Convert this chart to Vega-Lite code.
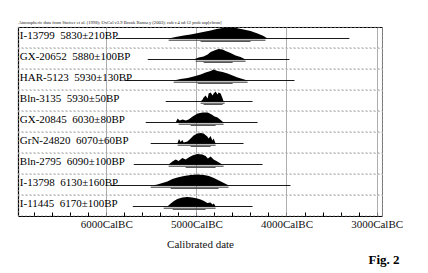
{
  "$schema": "https://vega.github.io/schema/vega-lite/v6.json",
  "background": "white",
  "padding": {"left": 17, "top": 19, "right": 0, "bottom": 0},
  "config": {
    "font": "Liberation Serif",
    "view": {"stroke": "#9a9a9a", "strokeDash": [1.5, 2.5], "strokeWidth": 0.8}
  },
  "title": {"text": "Fig. 2", "orient": "bottom", "anchor": "end", "fontSize": 13, "fontWeight": "bold", "font": "Liberation Serif", "offset": 5, "dx": -3},
  "bounds": "flush",
  "data": {"values": [
    {"id": "I-13799", "k": "line", "bc": 5895, "bc2": 3302, "lab": "I-13799\u00a0\u00a05830±210BP"},
    {"id": "I-13799", "k": "r95", "bc": 5308, "bc2": 4233},
    {"id": "I-13799", "k": "r68", "bc": 4953, "bc2": 4399},
    {"id": "I-13799", "k": "d", "bc": 5308, "h": 0},
    {"id": "I-13799", "k": "d", "bc": 5230, "h": 1.5},
    {"id": "I-13799", "k": "d", "bc": 5141, "h": 3},
    {"id": "I-13799", "k": "d", "bc": 5064, "h": 4},
    {"id": "I-13799", "k": "d", "bc": 5008, "h": 5},
    {"id": "I-13799", "k": "d", "bc": 4953, "h": 6},
    {"id": "I-13799", "k": "d", "bc": 4898, "h": 7},
    {"id": "I-13799", "k": "d", "bc": 4842, "h": 8},
    {"id": "I-13799", "k": "d", "bc": 4776, "h": 9.5},
    {"id": "I-13799", "k": "d", "bc": 4709, "h": 10.5},
    {"id": "I-13799", "k": "d", "bc": 4643, "h": 11},
    {"id": "I-13799", "k": "d", "bc": 4587, "h": 11},
    {"id": "I-13799", "k": "d", "bc": 4532, "h": 10},
    {"id": "I-13799", "k": "d", "bc": 4477, "h": 9},
    {"id": "I-13799", "k": "d", "bc": 4399, "h": 7.5},
    {"id": "I-13799", "k": "d", "bc": 4321, "h": 5},
    {"id": "I-13799", "k": "d", "bc": 4255, "h": 2.5},
    {"id": "I-13799", "k": "d", "bc": 4211, "h": 0},

    {"id": "GX-20652", "k": "line", "bc": 5540, "bc2": 3967, "lab": "GX-20652\u00a0\u00a05880±100BP"},
    {"id": "GX-20652", "k": "r95", "bc": 5008, "bc2": 4454},
    {"id": "GX-20652", "k": "r68", "bc": 4920, "bc2": 4598},
    {"id": "GX-20652", "k": "d", "bc": 5031, "h": 0},
    {"id": "GX-20652", "k": "d", "bc": 4975, "h": 2},
    {"id": "GX-20652", "k": "d", "bc": 4920, "h": 3},
    {"id": "GX-20652", "k": "d", "bc": 4875, "h": 5},
    {"id": "GX-20652", "k": "d", "bc": 4842, "h": 7.5},
    {"id": "GX-20652", "k": "d", "bc": 4787, "h": 9.5},
    {"id": "GX-20652", "k": "d", "bc": 4754, "h": 10.5},
    {"id": "GX-20652", "k": "d", "bc": 4709, "h": 10},
    {"id": "GX-20652", "k": "d", "bc": 4676, "h": 8.5},
    {"id": "GX-20652", "k": "d", "bc": 4621, "h": 6.5},
    {"id": "GX-20652", "k": "d", "bc": 4565, "h": 4},
    {"id": "GX-20652", "k": "d", "bc": 4510, "h": 2.5},
    {"id": "GX-20652", "k": "d", "bc": 4454, "h": 0},

    {"id": "HAR-5123", "k": "line", "bc": 5795, "bc2": 3911, "lab": "HAR-5123\u00a0\u00a05930±130BP"},
    {"id": "HAR-5123", "k": "r95", "bc": 5252, "bc2": 4432},
    {"id": "HAR-5123", "k": "r68", "bc": 4986, "bc2": 4598},
    {"id": "HAR-5123", "k": "d", "bc": 5252, "h": 0},
    {"id": "HAR-5123", "k": "d", "bc": 5175, "h": 1.5},
    {"id": "HAR-5123", "k": "d", "bc": 5097, "h": 2.5},
    {"id": "HAR-5123", "k": "d", "bc": 5031, "h": 4},
    {"id": "HAR-5123", "k": "d", "bc": 4953, "h": 6},
    {"id": "HAR-5123", "k": "d", "bc": 4898, "h": 8},
    {"id": "HAR-5123", "k": "d", "bc": 4842, "h": 9.5},
    {"id": "HAR-5123", "k": "d", "bc": 4809, "h": 11},
    {"id": "HAR-5123", "k": "d", "bc": 4765, "h": 9.5},
    {"id": "HAR-5123", "k": "d", "bc": 4709, "h": 8.5},
    {"id": "HAR-5123", "k": "d", "bc": 4654, "h": 7},
    {"id": "HAR-5123", "k": "d", "bc": 4598, "h": 5},
    {"id": "HAR-5123", "k": "d", "bc": 4543, "h": 3},
    {"id": "HAR-5123", "k": "d", "bc": 4488, "h": 1.5},
    {"id": "HAR-5123", "k": "d", "bc": 4432, "h": 0},

    {"id": "Bln-3135", "k": "line", "bc": 5341, "bc2": 4377, "lab": "Bln-3135\u00a0\u00a05930±50BP"},
    {"id": "Bln-3135", "k": "r95", "bc": 4953, "bc2": 4687},
    {"id": "Bln-3135", "k": "r68", "bc": 4920, "bc2": 4709},
    {"id": "Bln-3135", "k": "d", "bc": 4953, "h": 0},
    {"id": "Bln-3135", "k": "d", "bc": 4931, "h": 2},
    {"id": "Bln-3135", "k": "d", "bc": 4920, "h": 4},
    {"id": "Bln-3135", "k": "d", "bc": 4898, "h": 6},
    {"id": "Bln-3135", "k": "d", "bc": 4875, "h": 3},
    {"id": "Bln-3135", "k": "d", "bc": 4864, "h": 8},
    {"id": "Bln-3135", "k": "d", "bc": 4842, "h": 9},
    {"id": "Bln-3135", "k": "d", "bc": 4820, "h": 6},
    {"id": "Bln-3135", "k": "d", "bc": 4809, "h": 8},
    {"id": "Bln-3135", "k": "d", "bc": 4787, "h": 10},
    {"id": "Bln-3135", "k": "d", "bc": 4765, "h": 7},
    {"id": "Bln-3135", "k": "d", "bc": 4754, "h": 9},
    {"id": "Bln-3135", "k": "d", "bc": 4731, "h": 8},
    {"id": "Bln-3135", "k": "d", "bc": 4709, "h": 3},
    {"id": "Bln-3135", "k": "d", "bc": 4698, "h": 0},

    {"id": "GX-20845", "k": "line", "bc": 5562, "bc2": 4321, "lab": "GX-20845\u00a0\u00a06030±80BP"},
    {"id": "GX-20845", "k": "r95", "bc": 5197, "bc2": 4698},
    {"id": "GX-20845", "k": "r68", "bc": 5064, "bc2": 4787},
    {"id": "GX-20845", "k": "d", "bc": 5230, "h": 0},
    {"id": "GX-20845", "k": "d", "bc": 5208, "h": 4},
    {"id": "GX-20845", "k": "d", "bc": 5186, "h": 2},
    {"id": "GX-20845", "k": "d", "bc": 5152, "h": 3},
    {"id": "GX-20845", "k": "d", "bc": 5119, "h": 2},
    {"id": "GX-20845", "k": "d", "bc": 5086, "h": 3},
    {"id": "GX-20845", "k": "d", "bc": 5042, "h": 6},
    {"id": "GX-20845", "k": "d", "bc": 4986, "h": 9},
    {"id": "GX-20845", "k": "d", "bc": 4931, "h": 10},
    {"id": "GX-20845", "k": "d", "bc": 4875, "h": 10},
    {"id": "GX-20845", "k": "d", "bc": 4831, "h": 8},
    {"id": "GX-20845", "k": "d", "bc": 4798, "h": 6},
    {"id": "GX-20845", "k": "d", "bc": 4765, "h": 5},
    {"id": "GX-20845", "k": "d", "bc": 4731, "h": 2.5},
    {"id": "GX-20845", "k": "d", "bc": 4698, "h": 0},

    {"id": "GrN-24820", "k": "line", "bc": 5507, "bc2": 4477, "lab": "GrN-24820\u00a0\u00a06070±60BP"},
    {"id": "GrN-24820", "k": "r95", "bc": 5208, "bc2": 4787},
    {"id": "GrN-24820", "k": "r68", "bc": 5064, "bc2": 4842},
    {"id": "GrN-24820", "k": "d", "bc": 5211, "h": 0},
    {"id": "GrN-24820", "k": "d", "bc": 5193, "h": 4.5},
    {"id": "GrN-24820", "k": "d", "bc": 5175, "h": 1.5},
    {"id": "GrN-24820", "k": "d", "bc": 5156, "h": 3.5},
    {"id": "GrN-24820", "k": "d", "bc": 5141, "h": 1},
    {"id": "GrN-24820", "k": "d", "bc": 5100, "h": 2},
    {"id": "GrN-24820", "k": "d", "bc": 5064, "h": 5},
    {"id": "GrN-24820", "k": "d", "bc": 5031, "h": 8},
    {"id": "GrN-24820", "k": "d", "bc": 4990, "h": 10},
    {"id": "GrN-24820", "k": "d", "bc": 4953, "h": 10.5},
    {"id": "GrN-24820", "k": "d", "bc": 4920, "h": 10},
    {"id": "GrN-24820", "k": "d", "bc": 4879, "h": 7},
    {"id": "GrN-24820", "k": "d", "bc": 4864, "h": 5},
    {"id": "GrN-24820", "k": "d", "bc": 4842, "h": 7.5},
    {"id": "GrN-24820", "k": "d", "bc": 4823, "h": 3},
    {"id": "GrN-24820", "k": "d", "bc": 4809, "h": 5},
    {"id": "GrN-24820", "k": "d", "bc": 4787, "h": 0},

    {"id": "Bln-2795", "k": "line", "bc": 5695, "bc2": 4266, "lab": "Bln-2795\u00a0\u00a06090±100BP"},
    {"id": "Bln-2795", "k": "r95", "bc": 5308, "bc2": 4698},
    {"id": "Bln-2795", "k": "r68", "bc": 5119, "bc2": 4787},
    {"id": "Bln-2795", "k": "d", "bc": 5308, "h": 0},
    {"id": "Bln-2795", "k": "d", "bc": 5266, "h": 3},
    {"id": "Bln-2795", "k": "d", "bc": 5230, "h": 5},
    {"id": "Bln-2795", "k": "d", "bc": 5197, "h": 3.5},
    {"id": "Bln-2795", "k": "d", "bc": 5156, "h": 6.5},
    {"id": "Bln-2795", "k": "d", "bc": 5119, "h": 5},
    {"id": "Bln-2795", "k": "d", "bc": 5086, "h": 7},
    {"id": "Bln-2795", "k": "d", "bc": 5045, "h": 9},
    {"id": "Bln-2795", "k": "d", "bc": 4990, "h": 10.5},
    {"id": "Bln-2795", "k": "d", "bc": 4934, "h": 10},
    {"id": "Bln-2795", "k": "d", "bc": 4898, "h": 8.5},
    {"id": "Bln-2795", "k": "d", "bc": 4872, "h": 6},
    {"id": "Bln-2795", "k": "d", "bc": 4842, "h": 8},
    {"id": "Bln-2795", "k": "d", "bc": 4809, "h": 5},
    {"id": "Bln-2795", "k": "d", "bc": 4768, "h": 3},
    {"id": "Bln-2795", "k": "d", "bc": 4713, "h": 0},

    {"id": "I-13798", "k": "line", "bc": 5950, "bc2": 3956, "lab": "I-13798\u00a0\u00a06130±160BP"},
    {"id": "I-13798", "k": "r95", "bc": 5507, "bc2": 4643},
    {"id": "I-13798", "k": "r68", "bc": 5285, "bc2": 4754},
    {"id": "I-13798", "k": "d", "bc": 5488, "h": 0},
    {"id": "I-13798", "k": "d", "bc": 5433, "h": 1},
    {"id": "I-13798", "k": "d", "bc": 5377, "h": 2.5},
    {"id": "I-13798", "k": "d", "bc": 5322, "h": 4},
    {"id": "I-13798", "k": "d", "bc": 5266, "h": 6.5},
    {"id": "I-13798", "k": "d", "bc": 5211, "h": 8},
    {"id": "I-13798", "k": "d", "bc": 5138, "h": 9.5},
    {"id": "I-13798", "k": "d", "bc": 5064, "h": 10.5},
    {"id": "I-13798", "k": "d", "bc": 4990, "h": 11},
    {"id": "I-13798", "k": "d", "bc": 4916, "h": 10.5},
    {"id": "I-13798", "k": "d", "bc": 4861, "h": 9.5},
    {"id": "I-13798", "k": "d", "bc": 4806, "h": 7.5},
    {"id": "I-13798", "k": "d", "bc": 4750, "h": 5},
    {"id": "I-13798", "k": "d", "bc": 4695, "h": 2.5},
    {"id": "I-13798", "k": "d", "bc": 4639, "h": 0},

    {"id": "I-11445", "k": "line", "bc": 5706, "bc2": 4377, "lab": "I-11445\u00a0\u00a06170±100BP"},
    {"id": "I-11445", "k": "r95", "bc": 5363, "bc2": 4787},
    {"id": "I-11445", "k": "r68", "bc": 5263, "bc2": 4898},
    {"id": "I-11445", "k": "d", "bc": 5322, "h": 0},
    {"id": "I-11445", "k": "d", "bc": 5285, "h": 3},
    {"id": "I-11445", "k": "d", "bc": 5249, "h": 5.5},
    {"id": "I-11445", "k": "d", "bc": 5211, "h": 7.5},
    {"id": "I-11445", "k": "d", "bc": 5156, "h": 9},
    {"id": "I-11445", "k": "d", "bc": 5100, "h": 9.5},
    {"id": "I-11445", "k": "d", "bc": 5045, "h": 9},
    {"id": "I-11445", "k": "d", "bc": 4990, "h": 8},
    {"id": "I-11445", "k": "d", "bc": 4953, "h": 7},
    {"id": "I-11445", "k": "d", "bc": 4916, "h": 5.5},
    {"id": "I-11445", "k": "d", "bc": 4879, "h": 3.5},
    {"id": "I-11445", "k": "d", "bc": 4842, "h": 4},
    {"id": "I-11445", "k": "d", "bc": 4823, "h": 2},
    {"id": "I-11445", "k": "d", "bc": 4806, "h": 3},
    {"id": "I-11445", "k": "d", "bc": 4787, "h": 0}
  ]},
  "facet": {
    "row": {
      "field": "id",
      "type": "nominal",
      "header": null,
      "sort": ["I-13799", "GX-20652", "HAR-5123", "Bln-3135", "GX-20845", "GrN-24820", "Bln-2795", "I-13798", "I-11445"]
    }
  },
  "spacing": 0,
  "spec": {
    "width": 364,
    "height": 20.6,
    "resolve": {"axis": {"x": "independent", "y": "independent"}},
    "layer": [
      {
        "transform": [{"filter": "datum.k === 'd'"}],
        "mark": {"type": "area", "color": "#000", "interpolate": "linear"},
        "encoding": {
          "x": {
            "field": "bc", "type": "quantitative",
            "scale": {"domain": [2940, 6980], "reverse": true, "nice": false, "zero": false},
            "axis": {
              "orient": "bottom",
              "values": [3000, 3200, 3400, 3600, 3800, 4000, 4200, 4400, 4600, 4800, 5000, 5200, 5400, 5600, 5800, 6000, 6200, 6400, 6600, 6800],
              "labelExpr": "datum.value % 1000 === 0 ? datum.value + 'CalBC' : ''",
              "labelOverlap": false,
              "labelFlush": false,
              "labelFont": "Liberation Serif",
              "labelFontSize": 11,
              "labelColor": "#111",
              "labelPadding": 6,
              "tickSize": -4,
              "tickColor": "#000",
              "tickWidth": 1,
              "domainColor": "#000",
              "domainWidth": 1.2,
              "grid": true,
              "gridColor": "#999",
              "gridWidth": 0.8,
              "gridOpacity": {"condition": {"test": "datum.value % 1000 === 0", "value": 1}, "value": 0},
              "title": "Calibrated date",
              "titleFont": "Liberation Serif",
              "titleFontSize": 11,
              "titleFontWeight": "normal",
              "titleColor": "#111",
              "titlePadding": 9
            }
          },
          "y": {
            "field": "h", "type": "quantitative",
            "scale": {"domain": [-9.1, 11.5], "nice": false, "zero": false},
            "axis": {"orient": "left", "domainColor": "#000", "domainWidth": 1.2, "ticks": false, "labels": false, "grid": false, "title": null}
          },
          "y2": {"datum": 0}
        }
      },
      {
        "transform": [{"filter": "datum.k === 'line'"}],
        "mark": {"type": "rule", "color": "#000", "strokeWidth": 0.9},
        "encoding": {
          "x": {"field": "bc", "type": "quantitative", "axis": {
            "orient": "top", "domainColor": "#000", "domainWidth": 1.2, "ticks": false, "labels": false, "grid": false,
            "title": "Atmospheric data from Stuiver et al. (1998); OxCal v3.9 Bronk Ramsey (2003); cub r:4 sd:12 prob usp[chron]",
            "titleAnchor": "end", "titleAlign": "left", "titleFont": "Liberation Serif", "titleFontSize": 4.6, "titleFontWeight": "normal", "titleColor": "#222", "titlePadding": 3
          }},
          "x2": {"field": "bc2"},
          "y": {"datum": 0, "type": "quantitative", "axis": {"orient": "right", "domainColor": "#777", "domainWidth": 1, "ticks": false, "labels": false, "grid": false, "title": null}}
        }
      },
      {
        "transform": [{"filter": "datum.k === 'r95'"}],
        "mark": {"type": "rule", "color": "#333", "strokeWidth": 1},
        "encoding": {
          "x": {"field": "bc", "type": "quantitative", "axis": null},
          "x2": {"field": "bc2"},
          "y": {"datum": -1.7, "type": "quantitative", "axis": null}
        }
      },
      {
        "transform": [{"filter": "datum.k === 'r68'"}],
        "mark": {"type": "rule", "color": "#555", "strokeWidth": 1},
        "encoding": {
          "x": {"field": "bc", "type": "quantitative", "axis": null},
          "x2": {"field": "bc2"},
          "y": {"datum": -3, "type": "quantitative", "axis": null}
        }
      },
      {
        "transform": [{"filter": "datum.k === 'line'"}],
        "mark": {"type": "text", "align": "left", "baseline": "middle", "font": "Liberation Serif", "fontSize": 11, "color": "#000"},
        "encoding": {
          "x": {"datum": 6960, "type": "quantitative", "axis": null},
          "y": {"datum": 3, "type": "quantitative", "axis": null},
          "text": {"field": "lab"}
        }
      }
    ]
  }
}
